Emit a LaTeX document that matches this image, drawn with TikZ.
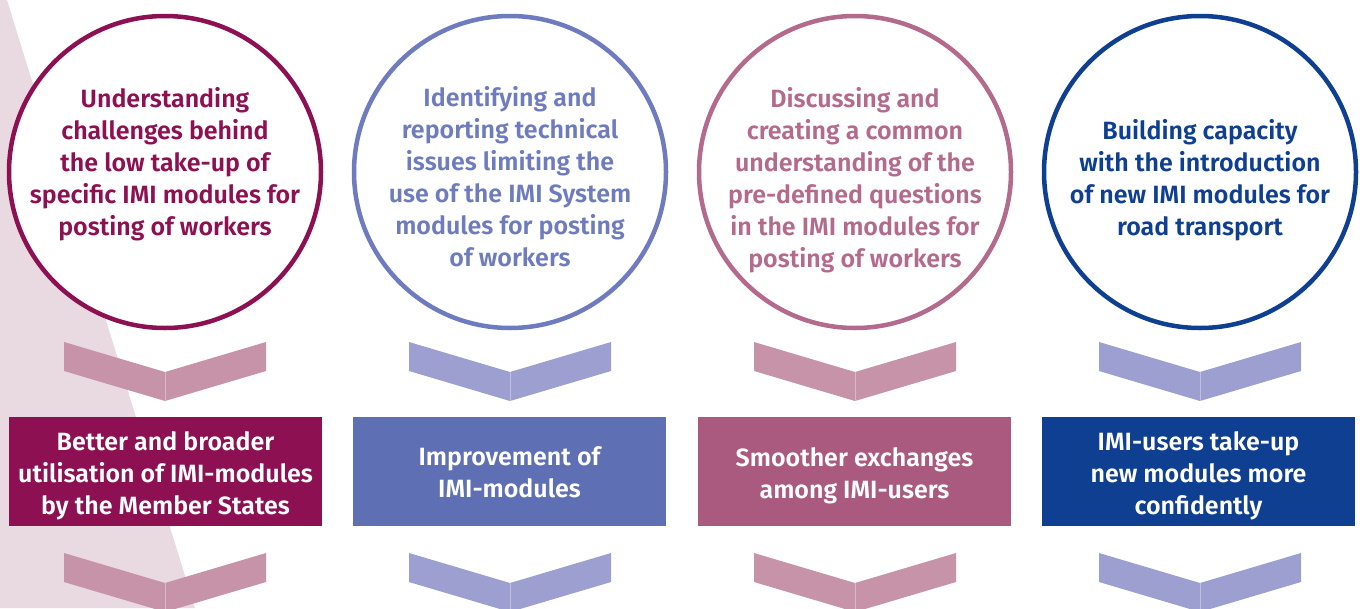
\documentclass[tikz,border=0pt]{standalone}
\usepackage{fontspec}
\setmainfont{Fira Sans}[BoldFont={Fira Sans SemiBold}]
\usepackage{tikz}
\definecolor{plum}{HTML}{8C1052}
\definecolor{plumlight}{HTML}{C693A9}
\definecolor{lilac}{HTML}{6E7CBF}
\definecolor{lilacbox}{HTML}{5F6FB4}
\definecolor{lilaclight}{HTML}{9C9FCF}
\definecolor{rose}{HTML}{B36A8C}
\definecolor{rosebox}{HTML}{A95A7E}
\definecolor{navy}{HTML}{0F3F91}
\definecolor{backdrop}{HTML}{E9D9E1}
\tikzstyle{ring}=[circle, draw, line width=4.5pt, minimum size=312pt, inner sep=0pt]
\tikzstyle{ringtext}=[align=center, font=\bfseries\fontsize{25}{32}\selectfont]
\tikzstyle{result}=[rectangle, minimum width=313pt, minimum height=109pt, inner sep=0pt]
\tikzstyle{resulttext}=[align=center, text=white, font=\bfseries\fontsize{25}{32}\selectfont]

\begin{document}
\begin{tikzpicture}[x=1pt, y=-1pt]
\useasboundingbox (0,0) rectangle (1362,608);
\clip (0,0) rectangle (1362,608);
% Backdrop
    \fill[backdrop] (0,0) -- (7,0) -- (195,608) -- (0,608) -- cycle;
% Circles
    \node[ring, draw=plum, fill=white] (aim1) at (165,172) {};
    \node[ring, draw=lilac, fill=white] (aim2) at (510,172) {};
    \node[ring, draw=rose, fill=white] (aim3) at (855,172) {};
    \node[ring, draw=navy, fill=white] (aim4) at (1200,172) {};
    \node[ringtext, text=plum] (aimtext1) at (165,164) {Understanding\\challenges behind\\the low take-up of\\specific IMI modules for\\posting of workers};
    \node[ringtext, text=lilac] (aimtext2) at (510,177) {Identifying and\\reporting technical\\issues limiting the\\use of the IMI System\\modules for posting\\of workers};
    \node[ringtext, text=rose] (aimtext3) at (855,180) {Discussing and\\creating a common\\understanding of the\\pre-defined questions\\in the IMI modules for\\posting of workers};
    \node[ringtext, text=navy] (aimtext4) at (1200,180) {Building capacity\\with the introduction\\of new IMI modules for\\road transport};
% Upper chevrons
    \fill[plumlight] (64,342) -- (165,372) -- (266,342) -- (266,371) -- (165,401) -- (64,371) -- cycle;
    \fill[lilaclight] (409,342) -- (510,372) -- (611,342) -- (611,371) -- (510,401) -- (409,371) -- cycle;
    \fill[plumlight] (754,342) -- (855,372) -- (956,342) -- (956,371) -- (855,401) -- (754,371) -- cycle;
    \fill[lilaclight] (1099,342) -- (1200,372) -- (1301,342) -- (1301,371) -- (1200,401) -- (1099,371) -- cycle;
    \draw[white, opacity=0.35, line width=0.8pt] (165,372) -- (165,401);
    \draw[white, opacity=0.35, line width=0.8pt] (510,372) -- (510,401);
    \draw[white, opacity=0.35, line width=0.8pt] (855,372) -- (855,401);
    \draw[white, opacity=0.35, line width=0.8pt] (1200,372) -- (1200,401);
% Results
    \node[result, fill=plum] (gain1) at (165.5,471.5) {};
    \node[result, fill=lilacbox] (gain2) at (509.5,471.5) {};
    \node[result, fill=rosebox] (gain3) at (854.5,471.5) {};
    \node[result, fill=navy] (gain4) at (1198.5,471.5) {};
    \node[resulttext] (gaintext1) at (165.5,475.5) {Better and broader\\utilisation of IMI-modules\\by the Member States};
    \node[resulttext] (gaintext2) at (509.5,472.5) {Improvement of\\IMI-modules};
    \node[resulttext] (gaintext3) at (854.5,475.5) {Smoother exchanges\\among IMI-users};
    \node[resulttext] (gaintext4) at (1198.5,475.5) {IMI-users take-up\\new modules more\\confidently};
% Lower chevrons
    \fill[plumlight] (64,553) -- (165,583) -- (266,553) -- (266,582) -- (165,612) -- (64,582) -- cycle;
    \fill[lilaclight] (409,553) -- (510,583) -- (611,553) -- (611,582) -- (510,612) -- (409,582) -- cycle;
    \fill[plumlight] (754,553) -- (855,583) -- (956,553) -- (956,582) -- (855,612) -- (754,582) -- cycle;
    \fill[lilaclight] (1099,553) -- (1200,583) -- (1301,553) -- (1301,582) -- (1200,612) -- (1099,582) -- cycle;
    \draw[white, opacity=0.35, line width=0.8pt] (165,583) -- (165,612);
    \draw[white, opacity=0.35, line width=0.8pt] (510,583) -- (510,612);
    \draw[white, opacity=0.35, line width=0.8pt] (855,583) -- (855,612);
    \draw[white, opacity=0.35, line width=0.8pt] (1200,583) -- (1200,612);
\end{tikzpicture}
\end{document}
